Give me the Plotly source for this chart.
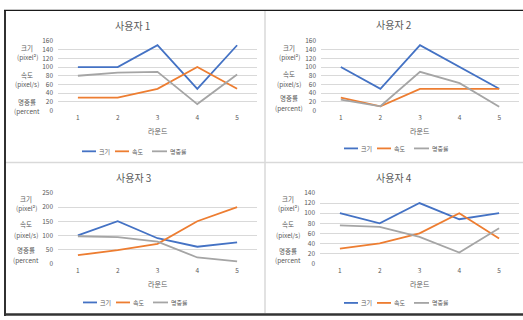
import plotly.graph_objects as go

W, H = 523, 320

rounds = [1, 2, 3, 4, 5]
series_names = ["크기", "속도", "명중률"]
series_colors = ["#4472C4", "#ED7D31", "#A5A5A5"]

titles = ["사용자 1", "사용자 2", "사용자 3", "사용자 4"]

u1_size = [100, 100, 150, 50, 150]
u1_speed = [30, 30, 50, 100, 50]
u1_hit = [80, 87, 89, 15, 83]

u2_size = [100, 50, 150, 100, 50]
u2_speed = [30, 10, 50, 50, 50]
u2_hit = [25, 10, 89, 63, 9]

u3_size = [100, 150, 90, 60, 75]
u3_speed = [30, 48, 70, 150, 200]
u3_hit = [97, 94, 78, 22, 8]

u4_size = [100, 80, 120, 88, 100]
u4_speed = [30, 40, 60, 100, 50]
u4_hit = [76, 73, 53, 22, 70]

y_max = [160, 160, 250, 140]
y_dtick = [20, 20, 50, 20]

data = [
    (u1_size, u1_speed, u1_hit),
    (u2_size, u2_speed, u2_hit),
    (u3_size, u3_speed, u3_hit),
    (u4_size, u4_speed, u4_hit),
]

x_title = "라운드"
ylab_lines = [
    ["크기", "(pixel²)", "속도", "(pixel/s)", "명중률", "(percent"],
    ["크기", "(pixel²)", "속도", "(pixel/s)", "명중률", "(percent)"],
    ["크기", "(pixel²)", "속도", "(pixel/s)", "명중률", "(percent"],
    ["크기", "(pixel²)", "속도", "(pixel/s)", "명중률", "(percent"],
]

# ---- layout geometry (pixels) ----
panels = [
    dict(x0=58, x1=257, ytop=36, ybot=108, c=132, title_y=20, xt_y=129, leg_y=150,
         lab_x=27, lab_y=[43, 53, 71, 81, 99, 108]),
    dict(x0=321, x1=519, ytop=36, ybot=108, c=394, title_y=19, xt_y=129, leg_y=147,
         lab_x=289, lab_y=[43, 53, 70, 80.5, 95, 105]),
    dict(x0=58, x1=257, ytop=193, ybot=266, c=133, title_y=177, xt_y=287, leg_y=306,
         lab_x=26, lab_y=[199, 209, 225, 236, 252, 262]),
    dict(x0=320, x1=519, ytop=193, ybot=266, c=394, title_y=177, xt_y=287, leg_y=306.5,
         lab_x=288, lab_y=[199, 209, 225, 236, 253, 262]),
]

FONT = "Noto Sans CJK KR"
TXT = "#595959"


def fx(px):
    return px / W


def fy(py):
    return 1 - py / H


def ann(text, x, y, size, anchor="center"):
    return dict(text=text, x=fx(x), y=fy(y), xref="paper", yref="paper",
                showarrow=False, xanchor=anchor, yanchor="middle",
                borderpad=0, font=dict(family=FONT, size=size, color=TXT))


fig = go.Figure()
annotations = []
shapes = []

for i, (p, vals) in enumerate(zip(panels, data)):
    xa = "x" if i == 0 else f"x{i+1}"
    ya = "y" if i == 0 else f"y{i+1}"
    for name, color, v in zip(series_names, series_colors, vals):
        fig.add_trace(go.Scatter(
            x=rounds, y=v, mode="lines", name=name,
            line=dict(color=color, width=1.8),
            xaxis=xa, yaxis=ya, showlegend=False,
        ))
    xkey = "xaxis" if i == 0 else f"xaxis{i+1}"
    ykey = "yaxis" if i == 0 else f"yaxis{i+1}"
    fig.update_layout(**{
        xkey: dict(domain=[fx(p["x0"]), fx(p["x1"])], anchor=ya,
                   range=[0.5, 5.5], tickvals=rounds, showgrid=False,
                   zeroline=False, showline=False, ticks="",
                   ticklabelstandoff=2,
                   tickfont=dict(family=FONT, size=6.5, color=TXT)),
        ykey: dict(domain=[fy(p["ybot"]), fy(p["ytop"])], anchor=xa,
                   range=[0, y_max[i]], dtick=y_dtick[i], showgrid=True,
                   gridcolor="#D9D9D9", gridwidth=1, zeroline=False,
                   showline=False, ticks="", ticklabelstandoff=4,
                   tickfont=dict(family=FONT, size=6.5, color=TXT)),
    })
    annotations.append(ann(titles[i], p["c"], p["title_y"], 10))
    annotations.append(ann(x_title, (p["x0"] + p["x1"]) / 2, p["xt_y"], 7))
    for txt, ly in zip(ylab_lines[i], p["lab_y"]):
        annotations.append(ann(txt, p["lab_x"], ly, 6.5))
    # legend
    c = p["c"]
    offs = [(-50, -36, -34.5), (-17, -3, -1.3), (20, 35, 37)]
    for (a, b, t), name, color in zip(offs, series_names, series_colors):
        shapes.append(dict(type="line", xref="paper", yref="paper",
                           x0=fx(c + a), x1=fx(c + b), y0=fy(p["leg_y"]), y1=fy(p["leg_y"]),
                           line=dict(color=color, width=1.8)))
        annotations.append(ann(name, c + t, p["leg_y"], 6, anchor="left"))

# frame and dividers
shapes += [
    dict(type="line", xref="paper", yref="paper", x0=fx(265), x1=fx(265), y0=fy(5), y1=fy(317),
         line=dict(color="#D9D9D9", width=1.5)),
    dict(type="line", xref="paper", yref="paper", x0=fx(5), x1=fx(523), y0=fy(161.5), y1=fy(161.5),
         line=dict(color="#D9D9D9", width=1.5)),
    dict(type="line", xref="paper", yref="paper", x0=fx(4), x1=fx(523), y0=fy(4.5), y1=fy(4.5),
         line=dict(color="#1A1A1A", width=1.3)),
    dict(type="line", xref="paper", yref="paper", x0=fx(5), x1=fx(5), y0=fy(4), y1=fy(320),
         line=dict(color="#1A1A1A", width=1.8)),
    dict(type="line", xref="paper", yref="paper", x0=fx(4), x1=fx(523), y0=fy(318.5), y1=fy(318.5),
         line=dict(color="#333333", width=2.5)),
]

fig.update_layout(
    width=W, height=H, margin=dict(l=0, r=0, t=0, b=0),
    paper_bgcolor="white", plot_bgcolor="white",
    annotations=annotations, shapes=shapes, showlegend=False,
    font=dict(family=FONT, color=TXT),
)

fig.write_html("out.html")
